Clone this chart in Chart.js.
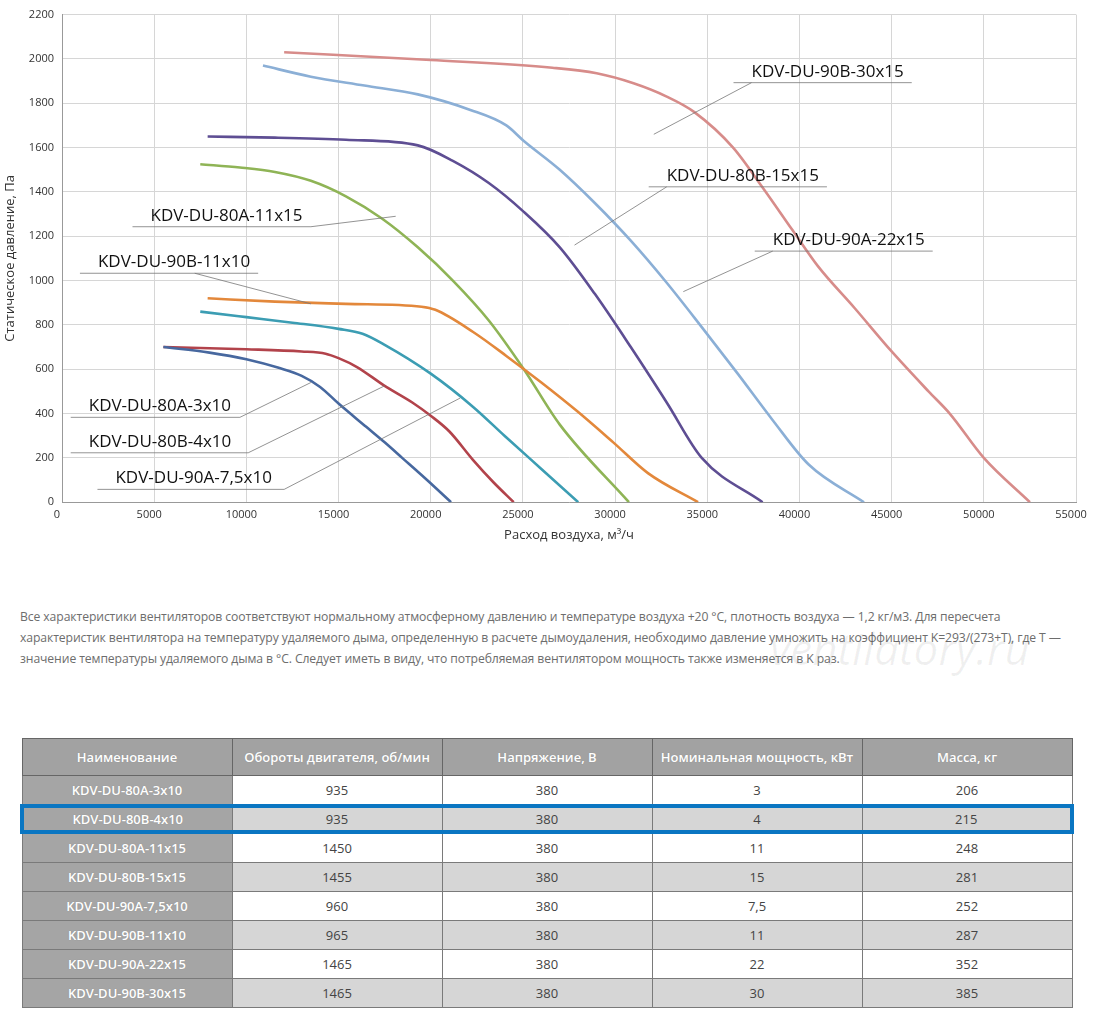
<!DOCTYPE html>
<html>
<head>
<meta charset="utf-8">
<script src="https://cdn.jsdelivr.net/npm/chart.js@4"></script>
<style>
  body { margin: 0; width: 1100px; height: 1016px; background: #fff; font-family: "Open Sans", "DejaVu Sans", sans-serif; position: relative; overflow: hidden; }
  #wrap { position: absolute; left: 0; top: 0; width: 1100px; height: 550px; }
  #note { position: absolute; left: 20px; top: 606px; width: 1052px; font-size: 12.2px; line-height: 21px; color: #6d6d6d; letter-spacing: -0.1px; }
  #wm { position: absolute; left: 770px; top: 618px; font-size: 44px; color: rgba(0,0,0,0.06); font-style: italic; }
  table { position: absolute; left: 20px; top: 738px; width: 1054px; border-collapse: collapse; font-size: 13px; table-layout: fixed; }
  td, th { border: 1px solid #7a7a7a; height: 28px; padding: 0; text-align: center; color: #444; }
  th { background: #a2a2a2; color: #fff; font-weight: 600; height: 36px; border-color: #666; text-shadow: 0 0 1px #888; }
  td.n { background: #a5a5a5; color: #fff; font-weight: 600; text-shadow: 0 0 1px #888; }
  tr.g td { background: #d6d6d6; }
  tr.g td.n { background: #a5a5a5; }
  tr.hl td { border-top: 4px solid #0a76c2; border-bottom: 4px solid #0a76c2; height: 22px; }
  tr.hl td:first-child { border-left: 4px solid #0a76c2; }
  tr.hl td:last-child { border-right: 4px solid #0a76c2; }
</style>
</head>
<body>
<div id="wrap"><canvas id="c"></canvas></div>
<div id="note">Все характеристики вентиляторов соответствуют нормальному атмосферному давлению и температуре воздуха +20 °С, плотность воздуха — 1,2 кг/м3. Для пересчета характеристик вентилятора на температуру удаляемого дыма, определенную в расчете дымоудаления, необходимо давление умножить на коэффициент K=293/(273+T), где T — значение температуры удаляемого дыма в °С. Следует иметь в виду, что потребляемая вентилятором мощность также изменяется в K раз.</div>
<div id="wm">ventilatory.ru</div>
<table id="tbl"></table>
<script>
const xTicks = [0,5000,10000,15000,20000,25000,30000,35000,40000,45000,50000,55000];

const c80A3 = [[5500,700],[8000,675],[10000,645],[11800,605],[13000,570],[14000,520],[15000,445],[16500,340],[17500,270],[18450,200],[19800,100],[21100,0]];
const c80B4 = [[5500,700],[10000,690],[13000,680],[14300,670],[15000,650],[16000,610],[17500,525],[19000,450],[20000,390],[21000,320],[22300,190],[23400,90],[24500,0]];
const c90A75 = [[7500,860],[10000,835],[12500,810],[15000,782],[16300,760],[17500,710],[20000,580],[22300,430],[24000,300],[26000,150],[28000,0]];
const c90B11 = [[7900,920],[11550,905],[15400,895],[19500,882],[20250,868],[22300,768],[24100,660],[26000,540],[27950,410],[29900,270],[31800,130],[34500,0]];
const c80A11 = [[7500,1525],[9650,1510],[11550,1490],[13500,1450],[15400,1380],[17350,1280],[19300,1150],[21200,1000],[23150,820],[25050,600],[27000,350],[30750,0]];
const c80B15 = [[7900,1650],[11550,1645],[15400,1635],[19300,1610],[21200,1540],[23150,1440],[25050,1310],[27000,1150],[28900,940],[30850,700],[32800,450],[34700,200],[38000,0]];
const c90A22 = [[10900,1970],[13500,1920],[16400,1880],[19300,1840],[22150,1770],[24100,1700],[25050,1630],[27000,1500],[28900,1350],[30850,1180],[32800,990],[34700,790],[36650,580],[38550,370],[40500,170],[43500,0]];
const c90B30 = [[12050,2030],[20000,1995],[26600,1960],[29000,1935],[31000,1890],[32800,1830],[34300,1760],[36400,1600],[38000,1420],[39600,1230],[41000,1065],[43000,875],[45000,680],[47000,500],[48150,400],[50000,200],[52500,0]];

const names = ["KDV-DU-80A-3x10","KDV-DU-80B-4x10","KDV-DU-90A-7,5x10","KDV-DU-90B-11x10","KDV-DU-80A-11x15","KDV-DU-80B-15x15","KDV-DU-90A-22x15","KDV-DU-90B-30x15"];
const curves = [c80A3, c80B4, c90A75, c90B11, c80A11, c80B15, c90A22, c90B30];
const colors = ["#47689f","#b2434b","#3c9db3","#e3883b","#8fb456","#5e4e93","#8bafd6","#d78c8a"];

// labels: [text, label x, label y (baseline), line start x, line start y, line end on curve x, y]
const labels = [
  ["KDV-DU-80A-3x10", 1450, 410, 9650, 385, 13500, 540],
  ["KDV-DU-80B-4x10", 1450, 250, 10100, 225, 17500, 525],
  ["KDV-DU-90A-7,5x10", 2900, 85, 12050, 60, 21600, 470],
  ["KDV-DU-90B-11x10", 1950, 1060, 7200, 1020, 13500, 895],
  ["KDV-DU-80A-11x15", 4800, 1270, 13500, 1220, 18100, 1290],
  ["KDV-DU-80B-15x15", 32800, 1450, 32800, 1415, 27800, 1160],
  ["KDV-DU-90A-22x15", 38550, 1160, 38550, 1125, 33700, 950],
  ["KDV-DU-90B-30x15", 37400, 1920, 37400, 1880, 32100, 1660]
];

const annot = {
  id: "annot",
  afterDatasetsDraw(chart) {
    const { ctx, scales: { x, y } } = chart;
    ctx.save();
    ctx.font = "17px 'Open Sans', sans-serif";
    ctx.textBaseline = "alphabetic";
    labels.forEach(l => {
      const tx = x.getPixelForValue(l[1]), ty = y.getPixelForValue(l[2]);
      const w = ctx.measureText(l[0]).width;
      ctx.fillStyle = "#111";
      ctx.fillText(l[0], tx, ty);
      ctx.strokeStyle = "#777";
      ctx.lineWidth = 0.8;
      const uy = ty + 6;
      const sx = x.getPixelForValue(l[3]);
      const left = Math.min(tx - 18, sx), right = Math.max(tx + w + 8, sx);
      ctx.beginPath();
      ctx.moveTo(left, uy); ctx.lineTo(right, uy);
      ctx.moveTo(sx, uy);
      ctx.lineTo(x.getPixelForValue(l[5]), y.getPixelForValue(l[6]));
      ctx.stroke();
    });
    ctx.restore();
  }
};

new Chart(document.getElementById("c"), {
  type: "line",
  data: {
    datasets: curves.map((d, i) => ({
      label: names[i],
      data: d.map(p => ({ x: p[0], y: p[1] })),
      borderColor: colors[i],
      borderWidth: 2.6,
      pointRadius: 0,
      cubicInterpolationMode: "monotone"
    }))
  },
  options: {
    responsive: true,
    maintainAspectRatio: false,
    animation: false,
    layout: { padding: { top: 2, right: 24, bottom: 7, left: 0 } },
    plugins: { legend: { display: false }, tooltip: { enabled: false } },
    scales: {
      x: {
        type: "linear", min: 0, max: 55000,
        afterBuildTicks: s => { s.ticks = xTicks.map(v => ({ value: v })); },
        grid: { color: "#d6d6d6", drawTicks: false },
        border: { color: "#999" },
        ticks: { font: { size: 11, family: "'Open Sans'" }, color: "#333", padding: 6, maxRotation: 0, labelOffset: -5, callback: v => String(v) },
        title: { display: true, text: "Расход воздуха, м³/ч", font: { size: 13, family: "'Open Sans'" }, color: "#333", padding: 0 }
      },
      y: {
        min: 0, max: 2200,
        afterFit: s => { s.width = 62; },
        ticks: { stepSize: 200, font: { size: 11, family: "'Open Sans'" }, color: "#333", padding: 8, callback: v => String(v) },
        grid: { color: "#d6d6d6", drawTicks: false },
        border: { color: "#999" },
        title: { display: true, text: "Статическое давление, Па", font: { size: 13, family: "'Open Sans'" }, color: "#333", padding: 2 }
      }
    }
  },
  plugins: [annot]
});

const header = ["Наименование","Обороты двигателя, об/мин","Напряжение, В","Номинальная мощность, кВт","Масса, кг"];
const rpm = [935,935,1450,1455,960,965,1465,1465];
const volt = [380,380,380,380,380,380,380,380];
const power = ["3","4","11","15","7,5","11","22","30"];
const mass = [206,215,248,281,252,287,352,385];
const tblNames = ["KDV-DU-80A-3x10","KDV-DU-80B-4x10","KDV-DU-80A-11x15","KDV-DU-80B-15x15","KDV-DU-90A-7,5x10","KDV-DU-90B-11x10","KDV-DU-90A-22x15","KDV-DU-90B-30x15"];
let html = "<tr>" + header.map(h => "<th>" + h + "</th>").join("") + "</tr>";
tblNames.forEach((n, i) => {
  const cls = (i % 2 ? "g" : "") + (i === 1 ? " hl" : "");
  html += `<tr class="${cls}"><td class="n">${n}</td><td>${rpm[i]}</td><td>${volt[i]}</td><td>${power[i]}</td><td>${mass[i]}</td></tr>`;
});
document.getElementById("tbl").innerHTML = html;
</script>
</body>
</html>
